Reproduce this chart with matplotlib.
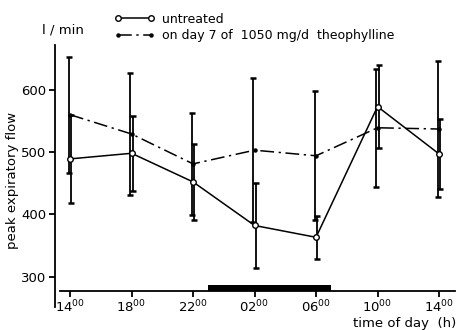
import matplotlib
matplotlib.use("Agg")
import matplotlib.pyplot as plt
import numpy as np

# Data
hours = [14, 18, 22, 26, 30, 34, 38]
tick_labels = ["14", "18", "22", "02", "06", "10", "14"]
untreated_mean = [489, 498, 452, 382, 363, 573, 497]
untreated_sd = [71, 60, 61, 68, 35, 67, 56]
theo_mean = [560, 529, 481, 503, 494, 539, 537]
theo_sd = [93, 98, 82, 116, 104, 95, 110]
night_start, night_end = 23, 31

plt.rcParams['font.family'] = ['DejaVu Sans']
fig = plt.figure(figsize=(4.6, 3.3), dpi=100)
ax = fig.add_axes([55/460, 23/330, 400/460, 262/330])

x = np.array(hours, dtype=float)
off = 0.08
# error bars
ax.errorbar(x - off, theo_mean, yerr=theo_sd, fmt='none', ecolor='black',
            elinewidth=1.3, capsize=2, capthick=1.8, zorder=2)
ax.errorbar(x + off, untreated_mean, yerr=untreated_sd, fmt='none', ecolor='black',
            elinewidth=1.3, capsize=2, capthick=1.8, zorder=2)
# lines
ax.plot(x, theo_mean, color='black', lw=1.1, dashes=(9, 3, 1.5, 3),
        marker='o', ms=2.2, mfc='black', mec='black', zorder=3,
        label='on day 7 of  1050 mg/d  theophylline')
ax.plot(x, untreated_mean, color='black', lw=1.1, marker='o', ms=4,
        mfc='white', mec='black', mew=1.0, zorder=4, label='untreated')

# night bar
ax.fill_between([night_start, night_end], 276, 286, color='black', lw=0, zorder=5)

ax.set_xlim(13.02, 39.04)
ax.set_ylim(251, 672)
ax.spines['top'].set_visible(False)
ax.spines['right'].set_visible(False)
ax.spines['bottom'].set_position(('data', 276))
ax.spines['bottom'].set_bounds(13.35, 39.04)
for s in ['left', 'bottom']:
    ax.spines[s].set_linewidth(1.3)

ax.set_yticks([300, 400, 500, 600])
ax.set_yticklabels(['300', '400', '500', '600'], fontsize=9.5)
ax.set_xticks(hours)
ax.set_xticklabels([r'$%s^{00}$' % t for t in tick_labels], fontsize=9.5)
ax.tick_params(axis='both', direction='out', length=4, width=1.3, pad=2)
ax.tick_params(axis='x', pad=1)

fig.text(13/460, 1 - 180/330, 'peak expiratory flow', rotation=90,
         fontsize=9.5, ha='center', va='center')
fig.text(42/460, 1 - 30/330, 'l / min', fontsize=9.5, ha='left', va='center')
fig.text(456/460, 1 - 323/330, 'time of day  (h)', fontsize=9.5, ha='right', va='center')

h, l = ax.get_legend_handles_labels()
leg = fig.legend(h[::-1], l[::-1], loc='upper left', bbox_to_anchor=(106/460, 1 - 4/330),
                 frameon=False, fontsize=9, handlelength=3.2, handletextpad=0.6,
                 labelspacing=0.25, numpoints=2, borderpad=0.2)

fig.savefig('out.png', dpi=100)
